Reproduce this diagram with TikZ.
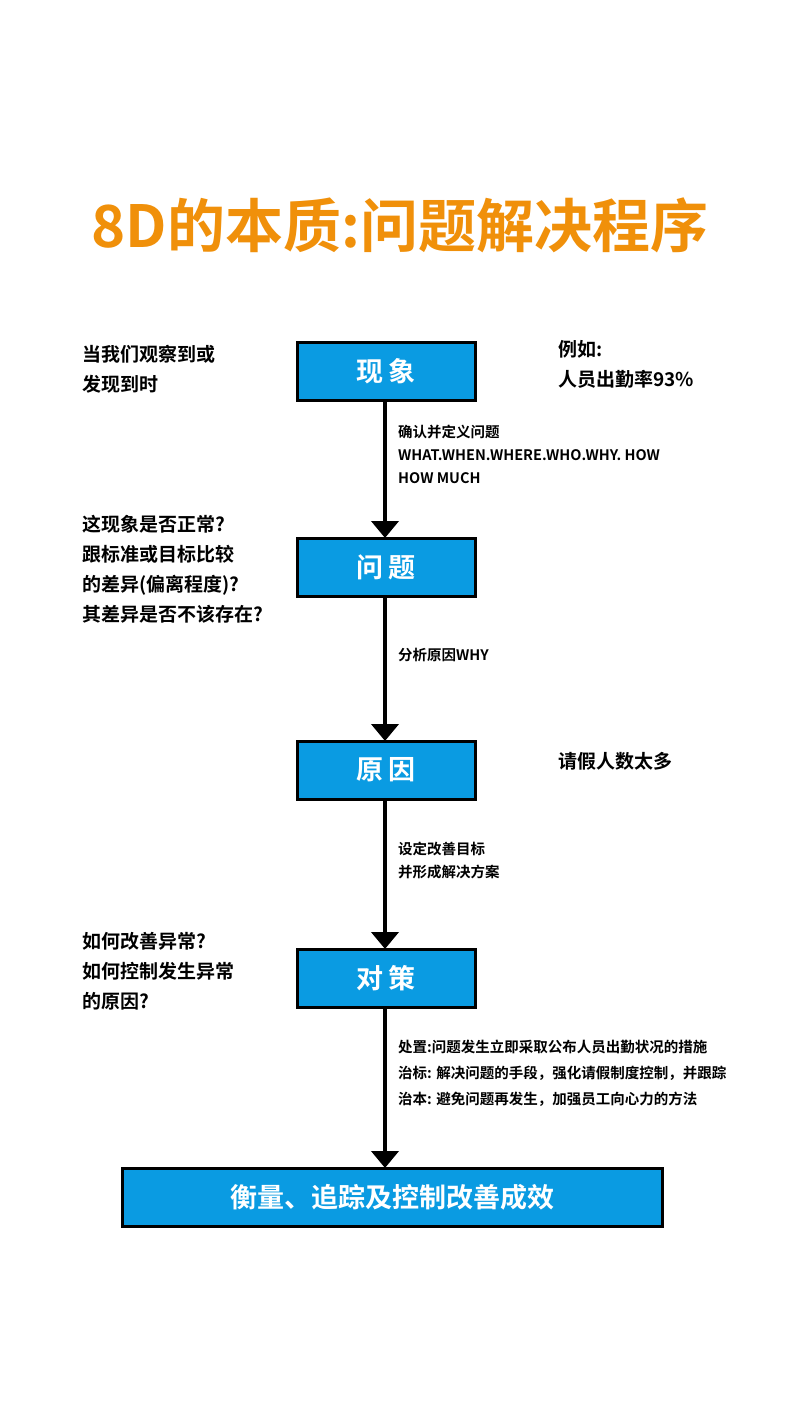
\documentclass[tikz,border=0pt]{standalone}
\usepackage{fontspec}
\setmainfont{Noto Sans CJK SC}[BoldFont={* Bold}]
\usetikzlibrary{arrows.meta}
\definecolor{boxblue}{HTML}{0A9BE2}
\definecolor{titleor}{HTML}{F0900A}
\begin{document}
\begin{tikzpicture}[x=1pt,y=-1pt,
  box/.style={draw=black,line width=3pt,fill=boxblue,text=white,font=\bfseries\fontsize{27}{30}\selectfont,minimum height=58pt,inner sep=0pt},
  side/.style={anchor=north west,align=left,font=\bfseries\fontsize{19}{30}\selectfont,inner sep=0pt},
  lab/.style={anchor=north west,align=left,font=\bfseries\fontsize{14.5}{23}\selectfont,inner sep=0pt},
  arr/.style={line width=4pt,-{Triangle[length=17pt,width=27pt]}}]
\useasboundingbox[fill=white] (0,0) rectangle (800,1422);
\node[font=\bfseries\fontsize{58}{60}\selectfont,text=titleor] (title) at (400,225) {8D的本质:问题解决程序};
\node[box,minimum width=178pt] (b1) at (386,371) {现\,象};
\node[box,minimum width=178pt] (b2) at (386,567) {问\,题};
\node[box,minimum width=178pt] (b3) at (386,770) {原\,因};
\node[box,minimum width=178pt] (b4) at (386,978) {对\,策};
\node[box,minimum width=540pt] (b5) at (392,1197) {衡量、追踪及控制改善成效};
\draw[arr] (b1.south -| 385,0) -- (385,538);
\draw[arr] (b2.south -| 385,0) -- (385,741);
\draw[arr] (b3.south -| 385,0) -- (385,949);
\draw[arr] (b4.south -| 385,0) -- (385,1168);
\node[side] (t1) at (82,345) {当我们观察到或\\发现到时};
\node[side] (t2) at (82,515) {这现象是否正常?\\跟标准或目标比较\\的差异(偏离程度)?\\其差异是否不该存在?};
\node[side] (t3) at (82,932) {如何改善异常?\\如何控制发生异常\\的原因?};
\node[side] (t4) at (558,340) {例如:\\人员出勤率93\%};
\node[side] (t5) at (558,752) {请假人数太多};
\node[lab] (l1) at (398,425) {确认并定义问题\\WHAT.WHEN.WHERE.WHO.WHY. HOW\\HOW MUCH};
\node[lab] (l2) at (398,648) {分析原因WHY};
\node[lab] (l3) at (398,842) {设定改善目标\\并形成解决方案};
\node[lab,font=\bfseries\fontsize{14.5}{26}\selectfont] (l4) at (398,1040) {处置:问题发生立即采取公布人员出勤状况的措施\\治标: 解决问题的手段，强化请假制度控制，并跟踪\\治本: 避免问题再发生，加强员工向心力的方法};
\end{tikzpicture}
\end{document}
